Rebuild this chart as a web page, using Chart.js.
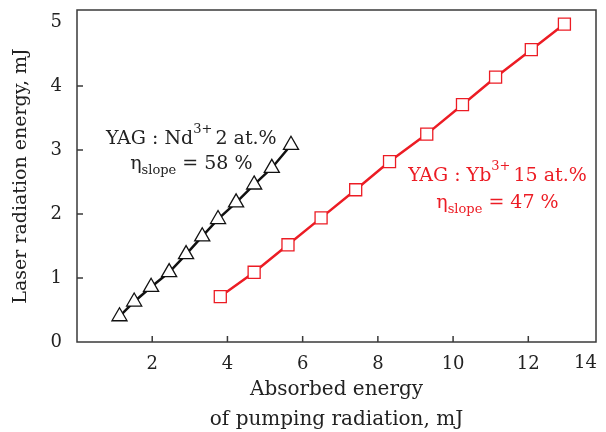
<!DOCTYPE html>
<html>
<head>
<meta charset="utf-8">
<script src="https://cdn.jsdelivr.net/npm/chart.js@4.4.0/dist/chart.umd.min.js"></script>
<style>
  html, body { margin: 0; padding: 0; background: #fff; }
  #wrap { width: 606px; height: 432px; }
</style>
</head>
<body>
<div id="wrap"><canvas id="chart"></canvas></div>
<script>
// YAG:Nd 2 at.% (triangles)
const ndX = [1.13, 1.52, 1.97, 2.45, 2.90, 3.33, 3.75, 4.23, 4.71, 5.18, 5.69];
const ndY = [0.40, 0.63, 0.86, 1.09, 1.37, 1.65, 1.92, 2.18, 2.46, 2.72, 3.08];
// YAG:Yb 15 at.% (squares)
const ybX = [3.81, 4.71, 5.61, 6.49, 7.41, 8.31, 9.30, 10.25, 11.13, 12.08, 12.96];
const ybY = [0.71, 1.09, 1.52, 1.94, 2.38, 2.82, 3.25, 3.71, 4.14, 4.57, 4.97];

const xTickLabels = ['2', '4', '6', '8', '10', '12', '14'];
const yTickLabels = ['0', '1', '2', '3', '4', '5'];

const RED = '#ec1c24';
const FONT = "'DejaVu Serif', serif";

const toPoints = (xs, ys) => xs.map((x, i) => ({ x: x, y: ys[i] }));

// frame, inward tick marks, the "14" label and the two text notes
const decorations = {
  id: 'decorations',
  afterDraw(chart) {
    const ctx = chart.ctx;
    const a = chart.chartArea;
    const xs = chart.scales.x, ys = chart.scales.y;
    ctx.save();
    ctx.strokeStyle = '#3a3a3a';
    ctx.lineWidth = 1.5;
    ctx.strokeRect(a.left, a.top, a.right - a.left, a.bottom - a.top);

    ctx.beginPath();
    xTickLabels.map(Number).forEach(v => {
      if (v >= xs.max) return;
      const px = xs.getPixelForValue(v);
      ctx.moveTo(px, a.bottom);
      ctx.lineTo(px, a.bottom - 6);
    });
    yTickLabels.map(Number).forEach(v => {
      if (v <= ys.min || v >= ys.max - 0.5) return;
      const py = ys.getPixelForValue(v);
      ctx.moveTo(a.left, py);
      ctx.lineTo(a.left + 6, py);
    });
    ctx.stroke();

    // last x label sits at the right edge of the frame
    ctx.fillStyle = '#222';
    ctx.font = '18px ' + FONT;
    ctx.textAlign = 'right';
    ctx.textBaseline = 'middle';
    xTickLabels.map(Number).forEach((v, i) => {
      if (v >= xs.max) ctx.fillText(xTickLabels[i], a.right + 1, a.bottom + 21);
    });

    drawRich(ctx, [['YAG : Nd', 'n'], ['3+', 'sup'], ['2 at.%', 'n']],
      xs.getPixelForValue(3.04), ys.getPixelForValue(3.18), '#222');
    drawRich(ctx, [['\u03B7', 'n'], ['slope', 'sub'], [' = 58 %', 'n']],
      xs.getPixelForValue(3.04), ys.getPixelForValue(2.78), '#222');
    drawRich(ctx, [['YAG : Yb', 'n'], ['3+', 'sup'], ['15 at.%', 'n']],
      xs.getPixelForValue(11.18), ys.getPixelForValue(2.60), RED);
    drawRich(ctx, [['\u03B7', 'n'], ['slope', 'sub'], [' = 47 %', 'n']],
      xs.getPixelForValue(11.18), ys.getPixelForValue(2.17), RED);
    ctx.restore();
  }
};

function drawRich(ctx, parts, cx, cy, color) {
  const big = '19px ' + FONT, small = '13px ' + FONT;
  let total = 0;
  parts.forEach(p => {
    ctx.font = p[1] === 'n' ? big : small;
    total += ctx.measureText(p[0]).width + (p[1] === 'sup' ? 3 : 0);
  });
  let x = cx - total / 2;
  ctx.fillStyle = color;
  ctx.textAlign = 'left';
  ctx.textBaseline = 'middle';
  parts.forEach(p => {
    ctx.font = p[1] === 'n' ? big : small;
    let dy = 0;
    if (p[1] === 'sup') dy = -9;
    if (p[1] === 'sub') dy = 6;
    ctx.fillText(p[0], x, cy + dy);
    x += ctx.measureText(p[0]).width + (p[1] === 'sup' ? 3 : 0);
  });
}

new Chart(document.getElementById('chart'), {
  type: 'line',
  data: {
    datasets: [
      {
        label: 'YAG:Nd 2 at.%',
        data: toPoints(ndX, ndY),
        borderColor: '#111',
        borderWidth: 2.5,
        pointStyle: 'triangle',
        pointRadius: 8.7,
        pointBackgroundColor: '#fff',
        pointBorderColor: '#111',
        pointBorderWidth: 1.3,
        tension: 0
      },
      {
        label: 'YAG:Yb 15 at.%',
        data: toPoints(ybX, ybY),
        borderColor: RED,
        borderWidth: 2.5,
        pointStyle: 'rect',
        pointRadius: 8.5,
        pointBackgroundColor: '#fff',
        pointBorderColor: RED,
        pointBorderWidth: 1.3,
        tension: 0
      }
    ]
  },
  options: {
    responsive: true,
    maintainAspectRatio: false,
    animation: false,
    layout: { padding: { top: 7, right: 10, left: 0, bottom: 0 } },
    plugins: { legend: { display: false }, tooltip: { enabled: false } },
    scales: {
      x: {
        type: 'linear',
        min: 0,
        max: 13.8,
        grid: { display: false, drawTicks: false },
        border: { display: false },
        afterBuildTicks: s => {
          s.ticks = xTickLabels.map(Number).filter(v => v < s.max).map(v => ({ value: v }));
        },
        afterFit: s => { s.height = 90; s.paddingLeft = 0; s.paddingRight = 0; },
        ticks: {
          padding: 12,
          color: '#222',
          font: { family: FONT, size: 18 },
          callback: v => String(v)
        },
        title: {
          display: true,
          text: ['Absorbed energy', 'of pumping radiation, mJ'],
          color: '#222',
          font: { family: FONT, size: 20, lineHeight: 1.5 },
          padding: { top: 0, bottom: -3 }
        }
      },
      y: {
        type: 'linear',
        min: 0,
        max: 5.19,
        grid: { display: false, drawTicks: false },
        border: { display: false },
        afterBuildTicks: s => {
          s.ticks = yTickLabels.map(Number).map(v => ({ value: v }));
        },
        afterFit: s => { s.width = 77; s.paddingTop = 0; s.paddingBottom = 0; },
        ticks: {
          padding: 15,
          color: '#222',
          font: { family: FONT, size: 18 },
          callback: v => String(v)
        },
        title: {
          display: true,
          text: 'Laser radiation energy, mJ',
          color: '#222',
          font: { family: FONT, size: 19, lineHeight: 1.2 },
          padding: { top: 10, bottom: 0 }
        }
      }
    }
  },
  plugins: [decorations]
});
</script>
</body>
</html>
